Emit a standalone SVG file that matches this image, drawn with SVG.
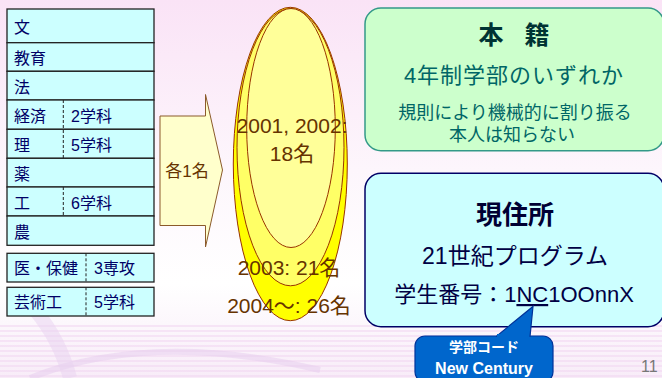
<svg xmlns="http://www.w3.org/2000/svg" width="662" height="378" viewBox="0 0 662 378">
<defs>
<linearGradient id="bg" x1="0" y1="0" x2="0" y2="1">
<stop offset="0" stop-color="#FAE3F6"/>
<stop offset="0.45" stop-color="#FDF6FC"/>
<stop offset="0.75" stop-color="#FFFFFF"/>
<stop offset="1" stop-color="#F8ECF8"/>
</linearGradient>
<pattern id="stripes" width="8" height="5" patternUnits="userSpaceOnUse">
<rect width="8" height="2" fill="#F2D8F2"/>
</pattern>
</defs>
<style>
text{font-family:"Liberation Sans","Noto Sans CJK JP",sans-serif}
.cell{fill:#CCFFFF;stroke:#222;stroke-width:1.3}
.div{stroke:#222;stroke-width:1;stroke-dasharray:3,2}
.t{font-size:16px;fill:#000066}
.ell{stroke:#993300;stroke-width:1}
.et{font-size:21px;fill:#663300;text-anchor:middle}
.gt{fill:#006666;text-anchor:middle}
.bt{fill:#000044;text-anchor:middle}
</style>
<rect width="662" height="378" fill="url(#bg)"/>
<rect x="0" y="322" width="662" height="56" fill="url(#stripes)" opacity="0.6"/>
<path d="M30 378 Q 150 330 320 370" fill="none" stroke="#E6CCEE" stroke-width="6" opacity="0.5"/>
<path d="M35 310 Q 60 340 70 378" fill="none" stroke="#E8D2F0" stroke-width="14" opacity="0.5"/>

<g id="table">
<rect class="cell" x="7" y="9" width="147" height="33.7"/>
<rect class="cell" x="7" y="42.7" width="147" height="28.6"/>
<rect class="cell" x="7" y="71.3" width="147" height="28.7"/>
<rect class="cell" x="7" y="100" width="147" height="29.3"/>
<rect class="cell" x="7" y="129.3" width="147" height="29"/>
<rect class="cell" x="7" y="158.3" width="147" height="28.7"/>
<rect class="cell" x="7" y="187" width="147" height="29"/>
<rect class="cell" x="7" y="216" width="147" height="29.3"/>
<line class="div" x1="63.3" y1="100" x2="63.3" y2="158.3"/>
<line class="div" x1="63.3" y1="187" x2="63.3" y2="216"/>
<text class="t" x="14" y="33">文</text>
<text class="t" x="14" y="64">教育</text>
<text class="t" x="14" y="93">法</text>
<text class="t" x="14" y="122">経済</text>
<text class="t" x="71" y="122">2学科</text>
<text class="t" x="14" y="151">理</text>
<text class="t" x="71" y="151">5学科</text>
<text class="t" x="14" y="180">薬</text>
<text class="t" x="14" y="209">工</text>
<text class="t" x="71" y="209">6学科</text>
<text class="t" x="14" y="238">農</text>
</g>
<g id="med">
<rect class="cell" x="7" y="253.3" width="147" height="28.7"/>
<line class="div" x1="86" y1="253.3" x2="86" y2="282"/>
<text class="t" x="14" y="274">医・保健</text>
<text class="t" x="94" y="274">3専攻</text>
</g>
<g id="art">
<rect class="cell" x="7" y="287.3" width="147" height="28.7"/>
<line class="div" x1="86" y1="287.3" x2="86" y2="316"/>
<text class="t" x="14" y="308">芸術工</text>
<text class="t" x="94" y="308">5学科</text>
</g>

<g id="connectors">
<path d="M160 116 L205.5 116 L205.5 94.5 L222.5 170 L205.5 247 L205.5 225.5 L160 225.5 Z" fill="#FFFFCC" stroke="#8B5A2B" stroke-width="1"/>
<text x="187" y="177" font-size="17" fill="#663300" text-anchor="middle">各1名</text>
</g>

<g id="ellipses">
<ellipse class="ell" cx="290.3" cy="164" rx="57" ry="156.7" fill="#FFFF00"/>
<ellipse class="ell" cx="290.5" cy="147.3" rx="53.5" ry="138.5" fill="#FFFF66"/>
<ellipse class="ell" cx="291" cy="128" rx="44.3" ry="119.5" fill="#FFFF99"/>
<text class="et" x="292" y="133">2001, 2002:</text>
<text class="et" x="292" y="161">18名</text>
<text class="et" x="289" y="275">2003: 21名</text>
<text class="et" x="289" y="313">2004～: 26名</text>
</g>

<g id="honseki">
<rect x="365" y="8" width="299" height="142.7" rx="16" fill="#CCFFCC" stroke="#339988" stroke-width="1.5"/>
<text x="514" y="44" font-size="25" font-weight="bold" fill="#003333" text-anchor="middle" word-spacing="14">本 籍</text>
<text class="gt" x="514" y="83" font-size="22" letter-spacing="1">4年制学部のいずれか</text>
<text class="gt" x="515" y="119" font-size="18">規則により機械的に割り振る</text>
<text class="gt" x="512" y="141" font-size="18">本人は知らない</text>
</g>

<g id="genjusho">
<rect x="365" y="173.3" width="299" height="153.4" rx="16" fill="#CCFFFF" stroke="#000066" stroke-width="1.5"/>
<text x="515" y="224" font-size="26" font-weight="bold" fill="#000033" text-anchor="middle">現住所</text>
<text class="bt" x="515" y="264" font-size="23">21世紀プログラム</text>
<text class="bt" x="514" y="302" font-size="22">学生番号：1<tspan text-decoration="underline">NC</tspan>1OOnnX</text>
</g>

<g id="callout">
<rect x="415" y="336" width="138" height="46" rx="10" fill="#0066CC" stroke="#003399" stroke-width="1.2"/>
<path d="M496 336.6 L533 306.5 L530 336.6" fill="#0066CC" stroke="#003399" stroke-width="1.2"/>
<rect x="497" y="334" width="32" height="4" fill="#0066CC"/>
<text x="484" y="352" font-size="14" font-weight="bold" fill="#FFFFFF" text-anchor="middle">学部コード</text>
<text x="484" y="374" font-size="16" font-weight="bold" fill="#FFFFFF" text-anchor="middle">New Century</text>
</g>

<text x="641" y="372" font-size="16" fill="#777777">11</text>
</svg>
